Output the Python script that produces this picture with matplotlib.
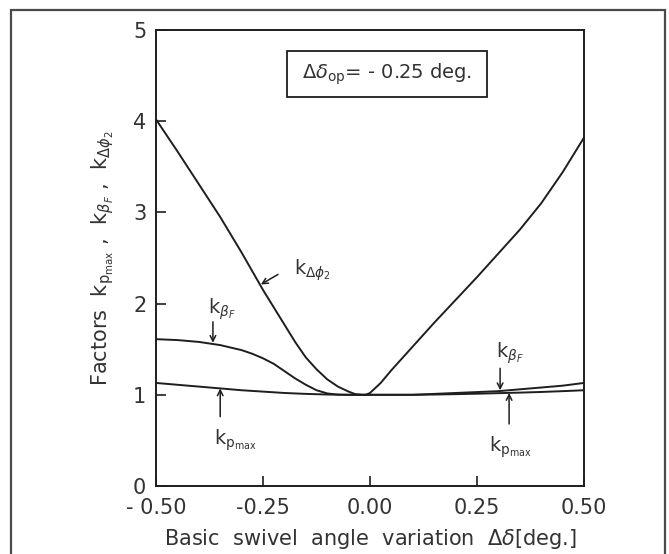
import matplotlib
matplotlib.use("Agg")
import matplotlib.pyplot as plt
from matplotlib.patches import Rectangle

plt.rcParams['font.family'] = ['DejaVu Sans']
plt.rcParams['mathtext.fontset'] = 'dejavusans'

# k_dphi2 against basic swivel angle variation [deg.]
x_dphi2 = [-0.50, -0.45, -0.40, -0.35, -0.30, -0.25, -0.225, -0.20, -0.175,
           -0.15, -0.125, -0.10, -0.075, -0.05, -0.035, -0.02, -0.01, 0.00,
           0.025, 0.05, 0.075, 0.10, 0.15, 0.20, 0.25, 0.30, 0.35, 0.40,
           0.45, 0.50]
k_dphi2 = [4.02, 3.67, 3.31, 2.95, 2.56, 2.15, 1.96, 1.77, 1.58,
           1.41, 1.28, 1.17, 1.09, 1.035, 1.008, 1.00, 1.00, 1.02,
           1.13, 1.27, 1.40, 1.53, 1.79, 2.04, 2.29, 2.55, 2.81, 3.10,
           3.44, 3.82]

# k_betaF
x_betaF = [-0.50, -0.45, -0.40, -0.35, -0.30, -0.275, -0.25, -0.225, -0.20,
           -0.175, -0.15, -0.125, -0.10, -0.075, -0.05, 0.00, 0.05, 0.10,
           0.15, 0.20, 0.25, 0.30, 0.35, 0.40, 0.45, 0.50]
k_betaF = [1.61, 1.60, 1.58, 1.545, 1.49, 1.45, 1.40, 1.34, 1.26,
           1.18, 1.11, 1.05, 1.015, 1.002, 1.00, 1.00, 1.00, 1.00,
           1.01, 1.02, 1.03, 1.04, 1.06, 1.08, 1.10, 1.13]

# k_pmax
x_pmax = [-0.50, -0.45, -0.40, -0.35, -0.30, -0.25, -0.20, -0.15, -0.10,
          -0.05, 0.00, 0.05, 0.10, 0.15, 0.20, 0.25, 0.30, 0.35, 0.40,
          0.45, 0.50]
k_pmax = [1.13, 1.11, 1.09, 1.07, 1.05, 1.035, 1.02, 1.01, 1.003,
          1.00, 1.00, 1.00, 1.00, 1.003, 1.007, 1.012, 1.018, 1.024, 1.031,
          1.04, 1.05]

x_ticks = [-0.50, -0.25, 0.00, 0.25, 0.50]
x_tick_labels = ['- 0.50', '-0.25', '0.00', '0.25', '0.50']
y_ticks = [0, 1, 2, 3, 4, 5]

ink = '#1e1e1e'
txt = '#333333'

fig = plt.figure(figsize=(6.69, 5.54), dpi=100)
fig.patch.set_facecolor('white')

# outer frame
fig.add_artist(Rectangle((11 / 669, -0.2), (665 - 11) / 669, 1.2 - 10 / 554,
                         transform=fig.transFigure, fill=False,
                         edgecolor='#4a4a4a', linewidth=1.6))

ax = fig.add_axes([156 / 669, 1 - 486 / 554, 428 / 669, 456 / 554])

lw = 1.4
line_kw = dict(color=ink, lw=lw, solid_joinstyle='round', solid_capstyle='round')
ax.plot(x_dphi2, k_dphi2, **line_kw)
ax.plot(x_betaF, k_betaF, **line_kw)
ax.plot(x_pmax, k_pmax, **line_kw)

ax.set_xlim(-0.5, 0.5)
ax.set_ylim(0, 5)
ax.set_xticks(x_ticks)
ax.set_xticklabels(x_tick_labels)
ax.set_yticks(y_ticks)
ax.tick_params(direction='in', length=7, width=1.2, colors=ink,
               labelcolor=txt, labelsize=15, top=False, right=False)
ax.tick_params(axis='x', pad=9)
ax.tick_params(axis='y', pad=7)
for s in ax.spines.values():
    s.set_linewidth(1.4)
    s.set_color(ink)

ax.set_xlabel(r'Basic  swivel  angle  variation  $\Delta\delta$[deg.]',
              fontsize=15, color=txt, labelpad=6)
ax.set_ylabel(r'Factors  k$_{\mathrm{p_{max}}}$ ,  k$_{\beta_F}$ ,  k$_{\Delta\phi_2}$',
              fontsize=15, color=txt, labelpad=12)

# operating point box
ax.add_patch(Rectangle((-0.194, 4.27), 0.467, 0.50, fill=False,
                       edgecolor=ink, linewidth=1.3))
ax.text(0.04, 4.52, r'$\Delta\delta_{\mathrm{op}}$= - 0.25 deg.',
        fontsize=14, color=txt, ha='center', va='center')

arrow = dict(arrowstyle='->', color=ink, lw=1.1, shrinkA=0, shrinkB=0,
             mutation_scale=10)
lab = dict(fontsize=14, color=txt, ha='center', va='center')

ax.annotate('', xy=(-0.255, 2.21), xytext=(-0.215, 2.32), arrowprops=arrow)
ax.text(-0.134, 2.37, r'k$_{\Delta\phi_2}$', **lab)

ax.annotate('', xy=(-0.367, 1.57), xytext=(-0.367, 1.80), arrowprops=arrow)
ax.text(-0.346, 1.94, r'k$_{\beta_F}$', **lab)

ax.annotate('', xy=(-0.350, 1.07), xytext=(-0.350, 0.76), arrowprops=arrow)
ax.text(-0.315, 0.50, r'k$_{\mathrm{p_{max}}}$', **lab)

ax.annotate('', xy=(0.304, 1.05), xytext=(0.304, 1.29), arrowprops=arrow)
ax.text(0.327, 1.46, r'k$_{\beta_F}$', **lab)

ax.annotate('', xy=(0.325, 1.02), xytext=(0.325, 0.68), arrowprops=arrow)
ax.text(0.327, 0.42, r'k$_{\mathrm{p_{max}}}$', **lab)

fig.savefig('out.png', dpi=100, facecolor='white')
